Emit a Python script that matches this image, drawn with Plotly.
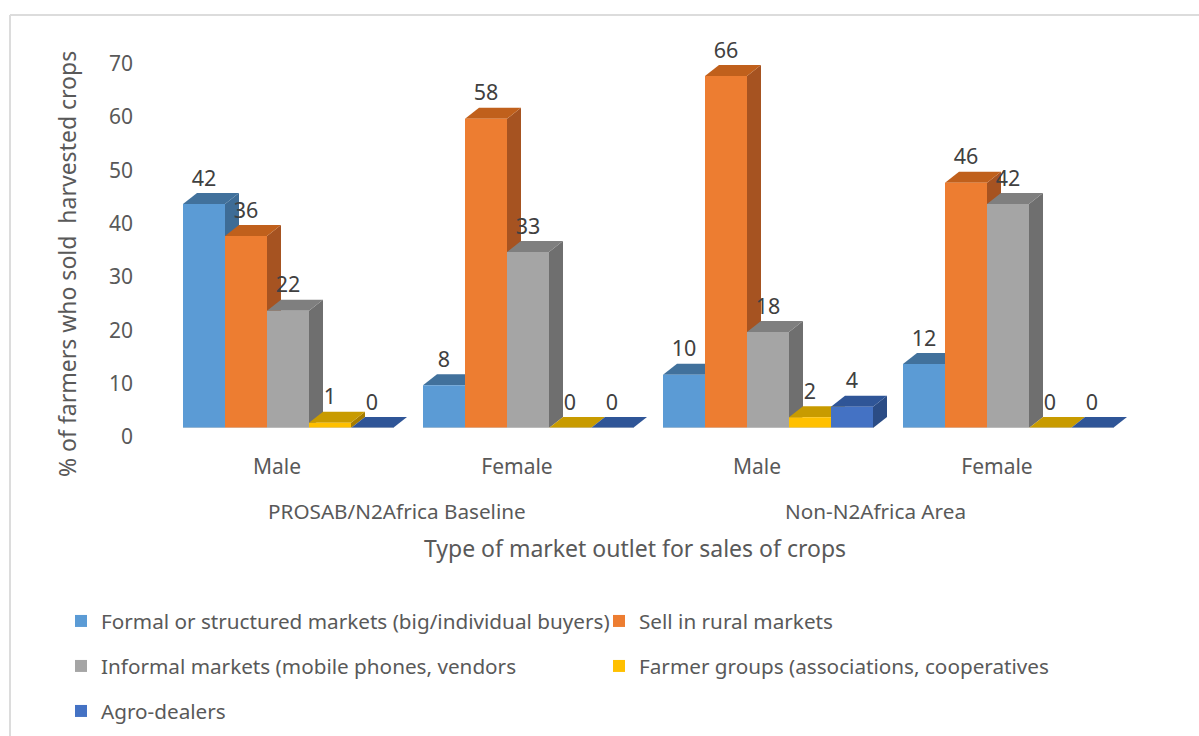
import plotly.graph_objects as go

subgroups = ["Male", "Female", "Male", "Female"]
groups = ["PROSAB/N2Africa Baseline", "Non-N2Africa Area"]
series_names = [
    "Formal or structured markets (big/individual buyers)",
    "Sell in rural markets",
    "Informal markets (mobile phones, vendors",
    "Farmer groups (associations, cooperatives",
    "Agro-dealers",
]
formal = [42, 8, 10, 12]
rural = [36, 58, 66, 46]
informal = [22, 33, 18, 42]
farmer = [1, 0, 2, 0]
agro = [0, 0, 4, 0]
all_values = [formal, rural, informal, farmer, agro]
front = ["#5B9BD5", "#ED7D31", "#A5A5A5", "#FFC000", "#4472C4"]
top = ["#41719C", "#C0601C", "#7F7F7F", "#C89B00", "#2F5597"]
side = ["#3E6C96", "#A65321", "#6F6F6F", "#A67D00", "#2B4C85"]
y_ticks = [0, 10, 20, 30, 40, 50, 60, 70]

W, H = 1199, 736
L, R, T, B = 142, 1128, 44, 428   # plot box in px
PX = 240.0                        # px per category
XMIN = -0.5 - (168 - L) / PX
XMAX = 3.5
YMAX = 72.0
PY = (B - T) / YMAX
BAR = 42 / PX
DX, DY = 14 / PX, 11 / PY
LABEL_LIFT = 2 / PY


def xp(px):
    return (px - L) / (R - L)


def yp(py):
    return (B - py) / (B - T)


fig = go.Figure()
shapes = []
FONT = "Noto Sans"
xs = list(range(len(subgroups)))

for k, (name, vals) in enumerate(zip(series_names, all_values)):
    lg = "legend" if k == 0 else f"legend{k + 1}"
    centres = [i + (k - 2) * BAR for i in xs]
    fig.add_bar(x=xs, y=vals, name=name, marker=dict(color=front[k], line=dict(width=0)),
                legend=lg, showlegend=True)
    for c, v in zip(centres, vals):
        x0, x1 = c - BAR / 2, c + BAR / 2
        shapes.append(dict(type="path", layer="below", xref="x", yref="y", fillcolor=side[k],
                           line=dict(width=0),
                           path=f"M{x1},0 L{x1 + DX},{DY} L{x1 + DX},{v + DY} L{x1},{v} Z"))
        shapes.append(dict(type="path", layer="below", xref="x", yref="y", fillcolor=top[k],
                           line=dict(width=0),
                           path=f"M{x0},{v} L{x0 + DX},{v + DY} L{x1 + DX},{v + DY} L{x1},{v} Z"))
    fig.add_scatter(x=centres, y=[v + DY + LABEL_LIFT for v in vals], mode="text",
                    text=[str(v) for v in vals],
                    textposition="top center", showlegend=False, hoverinfo="skip", cliponaxis=False,
                    textfont=dict(family=FONT, size=21.5, color="#404040"))

# baseline under each cluster
for i in xs:
    shapes.append(dict(type="line", xref="x", yref="y", layer="above", x0=i - 2.5 * BAR, x1=i + 2.5 * BAR,
                       y0=0, y1=0, line=dict(color="#D0D0D0", width=1)))
# frame
shapes.append(dict(type="line", xref="paper", yref="paper", x0=xp(10), x1=xp(10), y0=yp(15), y1=yp(736),
                   line=dict(color="#DCDCDC", width=2)))
shapes.append(dict(type="line", xref="paper", yref="paper", x0=xp(10), x1=xp(1199), y0=yp(15), y1=yp(15),
                   line=dict(color="#DCDCDC", width=2)))

annotations = [
    dict(text=groups[0], x=xp(397), y=yp(511), xref="paper", yref="paper", showarrow=False,
         xanchor="center", yanchor="middle", font=dict(family=FONT, size=20.7, color="#595959")),
    dict(text=groups[1], x=xp(875), y=yp(511), xref="paper", yref="paper", showarrow=False,
         xanchor="center", yanchor="middle", font=dict(family=FONT, size=20.7, color="#595959")),
    dict(text="% of farmers who sold  harvested crops", x=xp(67), y=yp(264), xref="paper", yref="paper",
         showarrow=False, xanchor="center", yanchor="middle", textangle=-90,
         font=dict(family=FONT, size=23, color="#595959")),
]

leg_pos = [(61, 621), (599, 621), (61, 666), (599, 666), (61, 711)]
legends = {}
for k, (lx, ly) in enumerate(leg_pos):
    key = "legend" if k == 0 else f"legend{k + 1}"
    legends[key] = dict(x=lx / W, y=1 - ly / H, xref="container", yref="container", orientation="h",
                        xanchor="left", yanchor="middle", bgcolor="rgba(0,0,0,0)",
                        font=dict(family=FONT, size=20.7, color="#595959"))

fig.update_layout(
    width=W, height=H, autosize=False,
    margin=dict(l=L, r=W - R, t=T, b=H - B, pad=0),
    paper_bgcolor="white", plot_bgcolor="rgba(0,0,0,0)",
    barmode="group", bargap=1 - 5 * BAR, bargroupgap=0,
    shapes=shapes, annotations=annotations,
    xaxis=dict(range=[XMIN, XMAX], tickmode="array", tickvals=xs, ticktext=subgroups, showgrid=False,
               zeroline=False, showline=False, ticks="", ticklabelshift=-11, ticklabelstandoff=24,
               automargin=False, tickfont=dict(family=FONT, size=21, color="#595959"),
               title=dict(text="Type of market outlet for sales of crops", standoff=61,
                          font=dict(family=FONT, size=23, color="#595959"))),
    yaxis=dict(range=[0, YMAX], tickmode="array", tickvals=y_ticks, showgrid=False, zeroline=False,
               showline=False, ticks="", ticklabelshift=9, ticklabelstandoff=8, automargin=False,
               tickfont=dict(family=FONT, size=21, color="#595959")),
    **legends,
)

fig.write_html("out.html", config={"displayModeBar": False},
               post_script="document.body.style.margin='0';")
